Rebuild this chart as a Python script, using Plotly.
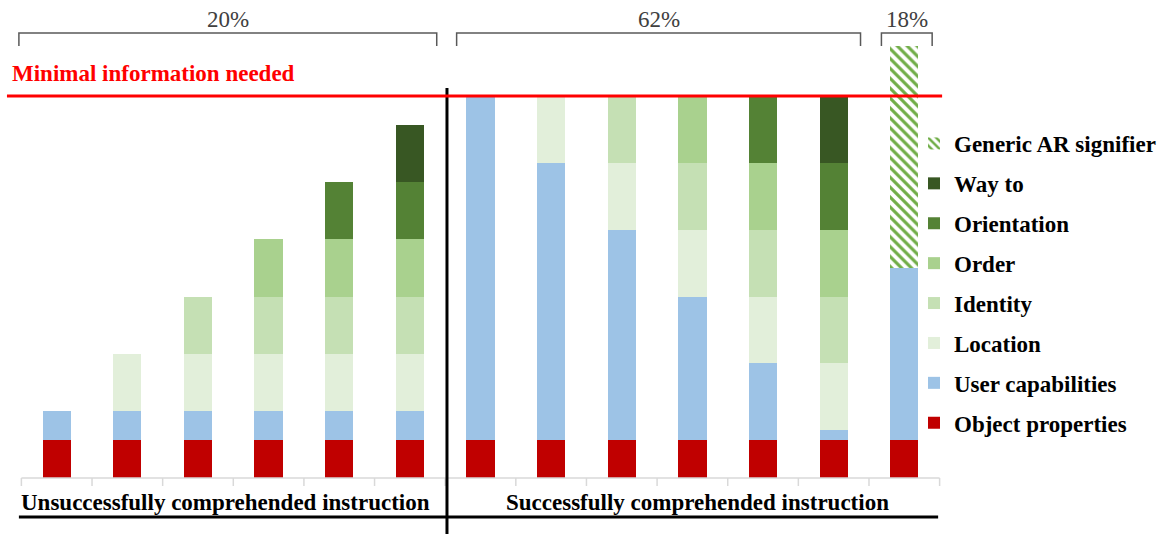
import plotly.graph_objects as go

# ---------------- data ----------------
categories = list(range(13))  # 6 unsuccessful, 6 successful, 1 generic AR signifier
object_properties = [2, 2, 2, 2, 2, 2, 2, 2, 2, 2, 2, 2, 2]
user_capabilities = [1.5, 1.5, 1.5, 1.5, 1.5, 1.5, 18, 14.5, 11, 7.5, 4, 0.5, 9]
location = [0, 3, 3, 3, 3, 3, 0, 3.5, 3.5, 3.5, 3.5, 3.5, 0]
identity = [0, 0, 3, 3, 3, 3, 0, 0, 3.5, 3.5, 3.5, 3.5, 0]
order = [0, 0, 0, 3, 3, 3, 0, 0, 0, 3.5, 3.5, 3.5, 0]
orientation = [0, 0, 0, 0, 3, 3, 0, 0, 0, 0, 3.5, 3.5, 0]
way_to = [0, 0, 0, 0, 0, 3, 0, 0, 0, 0, 0, 3.5, 0]
generic_ar = [0, 0, 0, 0, 0, 0, 0, 0, 0, 0, 0, 0, 11.6]
minimal_needed = 20
group_labels = ["Unsuccessfully comprehended instruction", "Successfully comprehended instruction"]
share_labels = ["20%", "62%", "18%"]

FONT = "Liberation Serif"
FS = 23
series = [
    ("Object properties", object_properties, "#C00000"),
    ("User capabilities", user_capabilities, "#9DC3E6"),
    ("Location", location, "#E2EFDA"),
    ("Identity", identity, "#C5E0B4"),
    ("Order", order, "#A9D18E"),
    ("Orientation", orientation, "#548235"),
    ("Way to", way_to, "#385723"),
]

fig = go.Figure()
for i, (name, vals, col) in enumerate(series):
    fig.add_trace(go.Bar(x=categories, y=vals, name=name, legendgroup=name, legendrank=100 - i,
                         marker=dict(color=col, line=dict(width=0)), width=0.4))
fig.add_trace(go.Bar(x=categories, y=generic_ar, name="Generic AR signifier",
                     legendgroup="Generic AR signifier", legendrank=1, width=0.4,
                     marker=dict(color="#70AD47", line=dict(width=0),
                                 pattern=dict(shape="\\", fgcolor="#70AD47", bgcolor="white",
                                              size=7, solidity=0.45, fillmode="replace"))))

# ---------------- geometry helpers (axis units) ----------------
PX_PER_CAT = 71.0
PX_PER_UNIT = 19.1
W, H = 1161, 534
x0_px, y0_px = 21.5, 478.0


def xd(px):
    return (px - x0_px) / PX_PER_CAT - 0.5


def yd(py):
    return (y0_px - py) / PX_PER_UNIT


shapes = []
# category axis baseline and ticks
n = len(categories)
shapes.append(dict(type="line", xref="x", yref="y", x0=-0.5, x1=n - 0.5, y0=0, y1=0,
                   line=dict(color="#D9D9D9", width=1.5)))
for k in range(n + 1):
    shapes.append(dict(type="line", xref="x", yref="y", x0=k - 0.5, x1=k - 0.5, y0=0, y1=yd(486),
                       line=dict(color="#D9D9D9", width=1.5)))
# divider
div_x = xd(449.3)
shapes.append(dict(type="line", xref="x", yref="y", x0=div_x, x1=div_x, y0=yd(88), y1=yd(534),
                   line=dict(color="black", width=3)))
# bottom black lines
shapes.append(dict(type="line", xref="x", yref="y", x0=xd(19), x1=div_x, y0=yd(517), y1=yd(517),
                   line=dict(color="black", width=3)))
shapes.append(dict(type="line", xref="x", yref="y", x0=div_x, x1=xd(943), y0=yd(517), y1=yd(517),
                   line=dict(color="black", width=3)))
# minimal information line
shapes.append(dict(type="line", xref="x", yref="y", x0=xd(7), x1=xd(947), y0=minimal_needed, y1=minimal_needed,
                   line=dict(color="#FF0000", width=3), layer="above"))
# brackets
brackets = [(xd(19), xd(439)), (xd(459), xd(865)), (xd(886), xd(937))]
ytop, ybot = yd(33), yd(46)
for (a, b) in brackets:
    shapes.append(dict(type="path", xref="x", yref="y",
                       path=f"M {a},{ybot} L {a},{ytop} L {b},{ytop} L {b},{ybot}",
                       line=dict(color="#595959", width=1.5)))

annotations = []
for (a, b), lab in zip(brackets, share_labels):
    annotations.append(dict(x=(a + b) / 2, y=yd(19), xref="x", yref="y", text=lab, showarrow=False,
                            font=dict(family=FONT, size=FS, color="#404040")))
annotations.append(dict(x=xd(10), y=yd(73), xref="x", yref="y", text="Minimal information needed",
                        xanchor="left", showarrow=False,
                        font=dict(family=FONT, size=FS, color="#FF0000", weight="bold")))
annotations.append(dict(x=xd(227), y=yd(502), xref="x", yref="y", text=group_labels[0], showarrow=False,
                        font=dict(family=FONT, size=FS, color="black", weight="bold")))
annotations.append(dict(x=xd(701), y=yd(502), xref="x", yref="y", text=group_labels[1], showarrow=False,
                        font=dict(family=FONT, size=FS, color="black", weight="bold")))

fig.update_layout(
    width=W, height=H,
    margin=dict(l=0, r=0, t=0, b=0),
    barmode="stack",
    plot_bgcolor="white", paper_bgcolor="white",
    xaxis=dict(range=[xd(0), xd(W)], visible=False, fixedrange=True),
    yaxis=dict(range=[yd(H), yd(0)], visible=False, fixedrange=True),
    shapes=shapes,
    annotations=annotations,
    showlegend=True,
    legend=dict(x=919 / W, y=1 - 122 / H, xanchor="left", yanchor="top",
                traceorder="grouped", tracegroupgap=7,
                font=dict(family=FONT, size=FS, color="black", weight="bold"),
                bgcolor="rgba(0,0,0,0)", borderwidth=0),
)

fig.write_html("out.html", config={"displayModeBar": False},
               post_script="document.body.style.margin='0px';document.body.style.overflow='hidden';")
